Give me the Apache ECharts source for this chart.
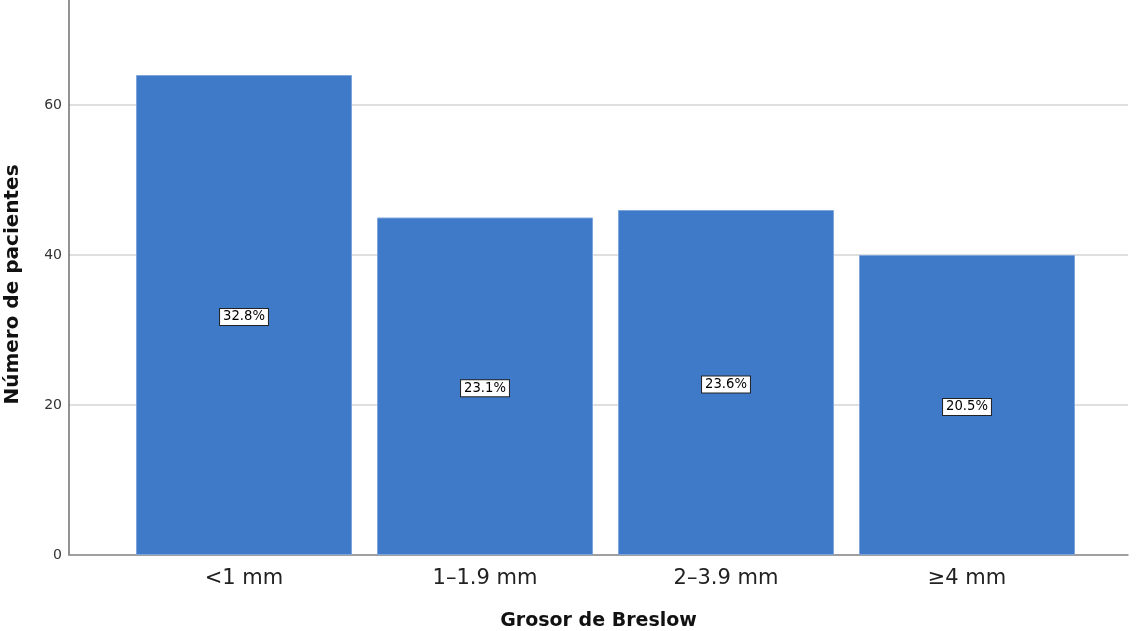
<!DOCTYPE html>
<html>
<head>
<meta charset="utf-8">
<script src="https://cdn.jsdelivr.net/npm/echarts@6/dist/echarts.min.js"></script>
<style>
  html, body { margin: 0; padding: 0; background: #fff; }
  #chart { width: 1142px; height: 631px; }
</style>
</head>
<body>
<div id="chart"></div>
<script>
// Breslow thickness groups and patient counts
const categories = ['<1 mm', '1–1.9 mm', '2–3.9 mm', '≥4 mm'];
const patients = [64, 45, 46, 40];
const percentLabels = ['32.8%', '23.1%', '23.6%', '20.5%'];
const yTicks = [0, 20, 40, 60];

const FONT = '"DejaVu Sans", sans-serif';
const Y_MAX = 74;

const chart = echarts.init(document.getElementById('chart'), null, { renderer: 'canvas' });

chart.setOption({
  animation: false,
  backgroundColor: '#ffffff',
  grid: [
    // frame: y axis, grid lines and baseline
    { left: 69, right: 14, top: 0, bottom: 76, outerBoundsMode: 'none', containLabel: false },
    // bars
    { left: 123.5, width: 964, top: 0, bottom: 76, outerBoundsMode: 'none', containLabel: false }
  ],
  xAxis: [
    {
      gridIndex: 0, type: 'value', min: 0, max: 1,
      axisLine: { show: true, lineStyle: { color: '#8a8a8a', width: 1.5 } },
      axisTick: { show: false }, axisLabel: { show: false }, splitLine: { show: false },
      name: 'Grosor de Breslow', nameLocation: 'middle', nameGap: 57,
      nameTextStyle: { fontFamily: FONT, fontWeight: 'bold', fontSize: 19, color: '#111' }
    },
    {
      gridIndex: 1, type: 'category', data: categories, boundaryGap: true,
      axisLine: { show: false }, axisTick: { show: false },
      axisLabel: { fontFamily: FONT, fontSize: 21, color: '#222', margin: 13 }
    }
  ],
  yAxis: [
    {
      gridIndex: 0, type: 'value', min: 0, max: Y_MAX, interval: 20,
      axisLine: { show: true, lineStyle: { color: '#6e6e6e', width: 1.5 } },
      axisTick: { show: false },
      axisLabel: {
        fontFamily: FONT, fontSize: 14, color: '#333', margin: 7,
        showMaxLabel: false,
        formatter: v => (yTicks.includes(v) ? String(v) : '')
      },
      splitLine: { show: true, showMaxLine: false, lineStyle: { color: '#d4d4d4', width: 1.5 } },
      name: 'Número de pacientes', nameLocation: 'middle', nameGap: 46, nameRotate: 90,
      nameTextStyle: {
        fontFamily: FONT, fontWeight: 'bold', fontSize: 20, color: '#111',
        padding: [0, 14, 0, 0]
      }
    },
    {
      gridIndex: 1, type: 'value', min: 0, max: Y_MAX, show: false,
      splitLine: { show: false }
    }
  ],
  series: [
    {
      type: 'bar',
      xAxisIndex: 1, yAxisIndex: 1,
      data: patients,
      barWidth: 216,
      itemStyle: { color: '#3e7ac8', borderColor: '#7ea5dc', borderWidth: 1 },
      label: {
        show: true,
        position: 'inside',
        offset: [0, 2],
        formatter: p => percentLabels[p.dataIndex],
        fontFamily: FONT, fontSize: 13.2, color: '#000',
        backgroundColor: '#ffffff',
        borderColor: '#222', borderWidth: 1,
        padding: [2, 3, 1, 3]
      }
    }
  ]
});
</script>
</body>
</html>
